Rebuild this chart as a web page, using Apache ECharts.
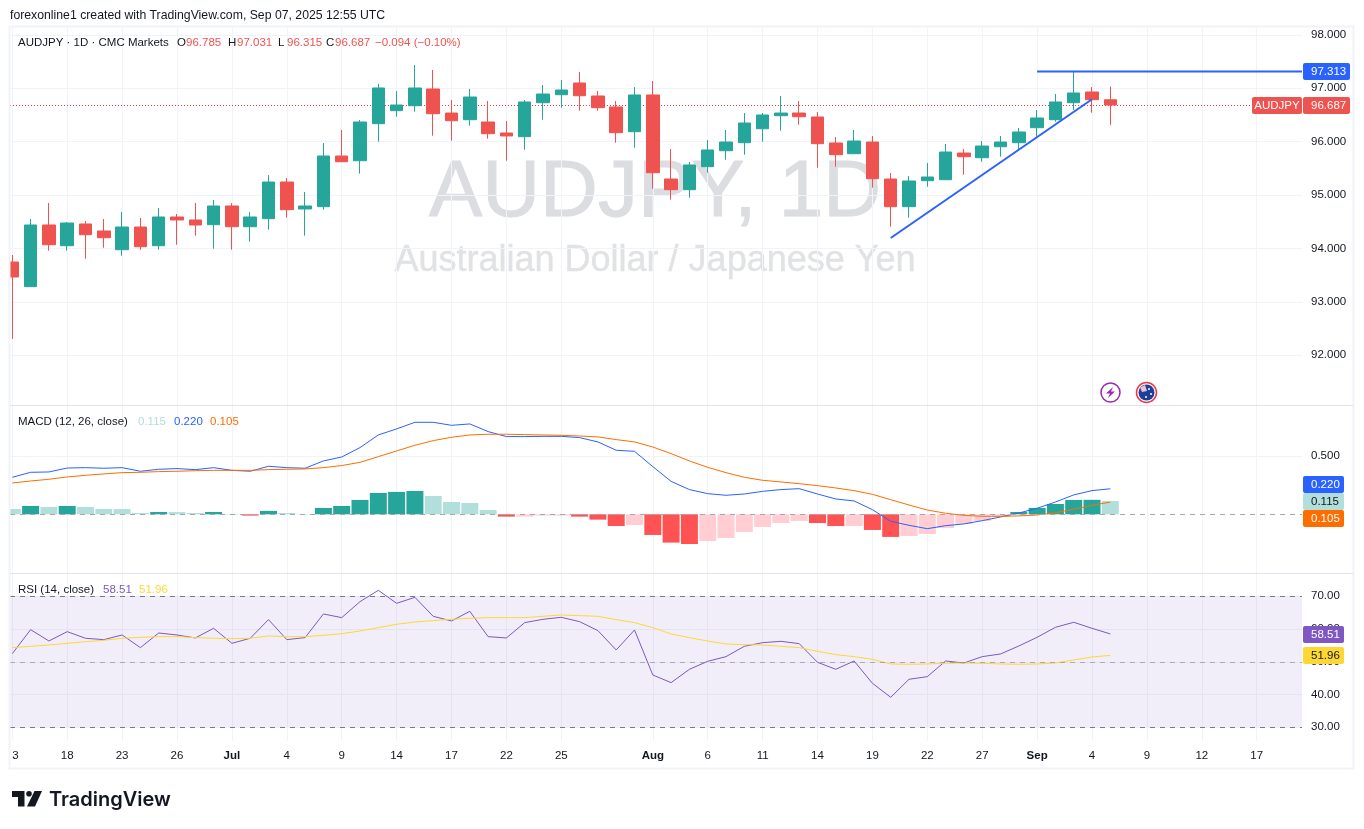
<!doctype html>
<html lang="en">
<head>
<meta charset="utf-8">
<title>AUDJPY</title>
<style>html,body{margin:0;padding:0;background:#fff}#main{width:1364px;height:829px}</style>
<script src="https://cdnjs.cloudflare.com/ajax/libs/echarts/6.0.0/echarts.min.js"></script>
</head>
<body>
<div id="main"></div>
<script type="text/javascript">
// open, close, low, high per session
var candles = [
[93.747,93.466,92.305,93.878],[93.285,94.440,93.285,94.552],[94.440,94.071,93.959,94.852],[94.052,94.477,93.959,94.496],
[94.459,94.258,93.809,94.515],[94.328,94.202,94.015,94.552],[93.977,94.402,93.865,94.684],[94.402,94.034,93.977,94.571],
[94.052,94.590,93.977,94.758],[94.590,94.534,94.071,94.646],[94.534,94.440,94.240,94.852],[94.446,94.796,93.996,94.908],
[94.796,94.408,93.977,94.852],[94.408,94.590,94.127,94.684],[94.558,95.245,94.352,95.376],[95.245,94.727,94.577,95.320],
[94.740,94.796,94.240,95.058],[94.783,95.732,94.727,95.976],[95.732,95.625,95.625,96.219],[95.644,96.369,95.401,96.406],
[96.337,97.006,96.000,97.081],[96.581,96.687,96.468,96.949],[96.674,97.006,96.562,97.436],[96.987,96.524,96.112,97.343],
[96.537,96.393,96.019,96.781],[96.412,96.837,96.300,96.987],[96.369,96.150,96.056,96.762],[96.163,96.107,95.644,96.388],
[96.094,96.744,95.850,96.781],[96.730,96.893,96.412,97.062],[96.880,96.968,96.637,97.155],[97.099,96.861,96.581,97.305],
[96.856,96.637,96.581,96.949],[96.650,96.169,95.981,96.762],[96.187,96.875,95.888,97.024],[96.875,95.419,95.120,97.137],
[95.301,95.101,94.914,95.863],[95.101,95.564,94.951,95.620],[95.532,95.845,95.419,96.032],[95.831,95.994,95.663,96.219],
[95.981,96.350,95.757,96.537],[96.243,96.500,96.000,96.537],[96.487,96.537,96.206,96.856],[96.537,96.468,96.318,96.762],
[96.463,95.963,95.513,96.556],[95.976,95.757,95.532,96.088],[95.775,96.013,95.775,96.219],[95.994,95.307,95.139,96.107],
[95.301,94.783,94.408,95.414],[94.783,95.264,94.577,95.358],[95.270,95.339,95.157,95.601],[95.288,95.807,95.288,95.957],
[95.788,95.719,95.382,95.863],[95.700,95.919,95.625,96.013],[95.906,95.994,95.719,96.107],[95.981,96.182,95.850,96.257],
[96.262,96.444,96.094,96.594],[96.412,96.744,96.375,96.893],[96.730,96.912,96.594,97.313],[96.931,96.787,96.543,97.024],
[96.785,96.687,96.315,97.031]
];
var macdLine = [.319,.362,.365,.399,.402,.397,.402,.371,.388,.394,.385,.402,.379,.371,.414,.402,.397,.460,.494,.575,.684,.736,.793,.793,.767,.779,.713,.670,.670,.672,.672,.661,.624,.552,.543,.411,.284,.213,.178,.164,.175,.198,.213,.221,.175,.132,.115,.040,-.060,-.095,-.124,-.098,-.083,-.055,-.023,.011,.052,.106,.167,.204,.220];
var signalLine = [.270,.287,.302,.322,.336,.348,.359,.362,.368,.371,.376,.379,.379,.379,.385,.388,.391,.402,.420,.448,.497,.546,.595,.635,.664,.684,.690,.690,.687,.684,.681,.675,.667,.644,.624,.580,.523,.460,.405,.359,.319,.293,.279,.264,.247,.227,.204,.172,.126,.080,.037,.009,-.009,-.017,-.017,-.014,-.006,.014,.043,.078,.105];
var macdHist = [.046,.072,.063,.072,.063,.046,.045,.011,.020,.019,.011,.020,.003,-.011,.029,.011,.003,.055,.072,.124,.184,.193,.201,.158,.106,.098,.037,-.020,-.020,-.011,-.011,-.020,-.046,-.101,-.092,-.178,-.244,-.256,-.230,-.204,-.152,-.109,-.075,-.057,-.075,-.101,-.101,-.135,-.195,-.187,-.170,-.118,-.083,-.057,-.023,.020,.055,.089,.124,.125,.115];
var rsiLine = [52.49,59.82,56.36,59.21,57.18,56.77,58.19,54.33,58.80,58.19,57.28,60.23,55.65,57.18,62.88,56.77,57.38,64.61,63.49,68.37,71.83,67.86,69.69,63.89,62.47,65.42,57.68,57.28,61.96,62.98,63.59,62.26,59.52,53.61,59.72,45.98,43.64,47.71,50.15,51.58,54.73,55.85,56.26,55.55,49.85,47.71,50.25,43.44,39.16,44.66,45.47,50.25,49.64,51.58,52.39,54.83,57.48,60.53,62.06,60.23,58.51];
var rsiMa = [54.33,54.73,55.14,55.65,56.16,56.56,57.18,57.48,57.68,57.68,57.38,57.18,57.07,57.18,57.89,57.68,57.68,58.09,58.60,59.41,60.43,61.45,62.16,62.57,62.98,63.28,63.49,63.49,63.49,63.89,64.30,64.10,63.89,62.88,61.96,60.43,58.50,57.38,56.36,55.45,55.24,55.14,54.73,54.33,53.21,52.19,51.58,50.76,49.34,49.24,49.34,49.54,49.64,49.54,49.34,49.24,49.34,49.64,50.56,51.48,51.96];

var tickIdx = [0,3,6,9,12,15,18,21,24,27,30,35,38,41,44,47,50,53,56,59,62,65,68];
var tickLabels = ['13','18','23','26','Jul','4','9','14','17','22','25','Aug','6','11','14','19','22','27','Sep','4','9','12','17'];
var priceTicks = [92,93,94,95,96,97,98];
var macdTicks = [0.5];
var rsiTicks = [30,40,50,60,70];

var trendLine = [[48,94.197],[59,96.794]];
var highLine = [[56,97.313],[70.475,97.313]];
var lastPrice = 96.687;

var FONT = '"Liberation Sans"';
var UP = '#26a69a', DOWN = '#ef5350';
var GRID_COLOR = '#f0f3fa';
var xMin = -0.126, xMax = 70.475;

function withIndex(arr){
    return arr.map(function(v,i){ return [i,v]; });
}
function histColor(i){
    var v = macdHist[i];
    var prev = i>0 ? macdHist[i-1] : v+1;
    if(v>=0) return v>=prev ? UP : '#b2dfdb';
    return v<prev ? '#ff5252' : '#ffcdd2';
}
function xAxis(idx,withLabels){
    return {
        type:'value', gridIndex:idx, min:xMin, max:xMax,
        axisLine:{show:false},
        axisTick:{show:false,customValues:tickIdx},
        splitLine:{show:true,lineStyle:{color:GRID_COLOR,width:1}},
        axisLabel:{
            show:withLabels, customValues:tickIdx, margin:9,
            color:'#131722', fontFamily:FONT, fontSize:11.5,
            formatter:function(v){
                var s = tickLabels[tickIdx.indexOf(v)];
                return /[a-z]/.test(s) ? '{b|'+s+'}' : s;
            },
            rich:{b:{fontWeight:'bold',fontFamily:FONT,fontSize:11.5,color:'#131722'}}
        }
    };
}
function yAxis(idx,min,max,ticks,digits){
    return {
        type:'value', gridIndex:idx, position:'right', min:min, max:max,
        axisLine:{show:false},
        axisTick:{show:false,customValues:ticks},
        splitLine:{show:true,lineStyle:{color:GRID_COLOR,width:1}},
        axisLabel:{
            customValues:ticks, margin:9, align:'left', padding:[2,0,0,0],
            color:'#131722', fontFamily:FONT, fontSize:11.5,
            formatter:function(v){ return v.toFixed(digits); }
        }
    };
}
function thinLine(name,idx,data,color){
    return {
        name:name, type:'line', xAxisIndex:idx, yAxisIndex:idx, data:data,
        showSymbol:false, silent:true, lineStyle:{color:color,width:1}, z:4
    };
}

// ---- texts, tags and decorations on top of the chart
function txt(x,y,s,fill,opt){
    opt = opt||{};
    return {type:'text',x:x,y:y,z:opt.z||100,style:{
        text:s, fill:fill, align:opt.align||'left', verticalAlign:'middle',
        font:(opt.weight||'normal')+' '+(opt.size||11.5)+'px '+(opt.font||FONT)
    }};
}
function tag(x,y,w,h,s,bg,fg){
    return [
        {type:'rect',z:110,shape:{x:x,y:y,width:w,height:h,r:2},style:{fill:bg}},
        {type:'text',z:111,x:1311,y:y+h/2+0.5,style:{text:s,fill:fg,verticalAlign:'middle',font:'11.5px '+FONT}}
    ];
}
var deco = [];
// watermark, behind the candles
deco.push({type:'text',z:0,x:655,y:194,style:{text:'AUDJPY, 1D',fill:'#dcdde0',stroke:'#dcdde0',lineWidth:1,align:'center',verticalAlign:'middle',font:'80px '+FONT}});
deco.push({type:'text',z:0,x:655,y:261,style:{text:'Australian Dollar / Japanese Yen',fill:'#e1e2e4',stroke:'#e1e2e4',lineWidth:0.4,align:'center',verticalAlign:'middle',font:'36px '+FONT}});
// frame and pane separators; the masks trim what is cut off at the left edge
deco.push({type:'rect',z:105,shape:{x:0,y:26,width:9,height:744},style:{fill:'#fff'}});
deco.push({type:'rect',z:105,shape:{x:10,y:747,width:2,height:16},style:{fill:'#fff'}});
deco.push({type:'rect',z:106,shape:{x:9.5,y:26.5,width:1344,height:742},style:{fill:'none',stroke:GRID_COLOR,lineWidth:2}});
deco.push({type:'rect',z:106,shape:{x:10,y:405,width:1343,height:1},style:{fill:'#e0e3eb'}});
deco.push({type:'rect',z:106,shape:{x:10,y:573,width:1343,height:1},style:{fill:'#e0e3eb'}});
deco.push(txt(10,15.5,'forexonline1 created with TradingView.com, Sep 07, 2025 12:55 UTC','#131722',{size:12.25}));
// price legend
deco.push(txt(18,42.5,'AUDJPY \u00b7 1D \u00b7 CMC Markets','#131722'));
[[177,'O','96.785'],[228,'H','97.031'],[278,'L','96.315'],[326,'C','96.687']].forEach(function(o){
    deco.push(txt(o[0],42.5,o[1],'#131722'));
    deco.push(txt(o[0]+9,42.5,o[2],DOWN));
});
deco.push(txt(375,42.5,'\u22120.094 (\u22120.10%)',DOWN));
// macd legend
deco.push(txt(18,421.5,'MACD (12, 26, close)','#131722'));
deco.push(txt(138,421.5,'0.115','#b2dfdb'));
deco.push(txt(174,421.5,'0.220','#2962ff'));
deco.push(txt(210,421.5,'0.105','#ff6d00'));
// rsi legend
deco.push(txt(18,589.5,'RSI (14, close)','#131722'));
deco.push(txt(103,589.5,'58.51','#7e57c2'));
deco.push(txt(139,589.5,'51.96','#fdd835'));
// price scale tags
deco = deco.concat(tag(1303,63,47,17,'97.313','#2962ff','#fff'));
deco = deco.concat(tag(1303,97,47,17,'96.687',DOWN,'#fff'));
deco.push({type:'rect',z:110,shape:{x:1252,y:97,width:50,height:17,r:2},style:{fill:DOWN}});
deco.push(txt(1277,106,'AUDJPY','#fff',{z:111,align:'center'}));
deco = deco.concat(tag(1303,476,41,17,'0.220','#2962ff','#fff'));
deco = deco.concat(tag(1303,493,41,17,'0.115','#b2dfdb','#131722'));
deco = deco.concat(tag(1303,510,41,17,'0.105','#ff6d00','#fff'));
deco = deco.concat(tag(1303,626,41,17,'58.51','#7e57c2','#fff'));
deco = deco.concat(tag(1303,647,41,17,'51.96','#fdd835','#131722'));
// event icons
deco.push({type:'circle',z:50,shape:{cx:1110.5,cy:392.5,r:9.5},style:{fill:'#fff',stroke:'#9c27b0',lineWidth:1.5}});
deco.push({type:'polygon',z:51,shape:{points:[[1113,387],[1106,393.5],[1110,393.5],[1108,398],[1115,391.5],[1111,391.5]]},style:{fill:'#9c27b0'}});
deco.push({type:'circle',z:50,shape:{cx:1146.5,cy:392.5,r:10},style:{fill:'#fff',stroke:'#f23645',lineWidth:1.5}});
deco.push({type:'circle',z:51,shape:{cx:1146.5,cy:392.5,r:8},style:{fill:'#1b3f9a'}});
deco.push({type:'polygon',z:52,shape:{points:[[1140,387.5],[1145,385],[1147,391],[1142,392]]},style:{fill:'#eec4cc'}});
deco.push({type:'circle',z:52,shape:{cx:1149,cy:389,r:1},style:{fill:'#fff'}});
deco.push({type:'circle',z:52,shape:{cx:1151,cy:394,r:1},style:{fill:'#fff'}});
deco.push({type:'circle',z:52,shape:{cx:1146,cy:397,r:1},style:{fill:'#fff'}});
// logo
deco.push({type:'polygon',z:100,shape:{points:[[12,791],[24.5,791],[24.5,806.5],[18,806.5],[18,797],[12,797]]},style:{fill:'#131722'}});
deco.push({type:'circle',z:100,shape:{cx:29,cy:793.8,r:2.8},style:{fill:'#131722'}});
deco.push({type:'polygon',z:100,shape:{points:[[34.5,791],[42,791],[35,806.5],[27,806.5]]},style:{fill:'#131722'}});
deco.push(txt(49,799.5,'TradingView','#131722',{size:20,weight:'600',font:'Inter'}));

var option = {
    animation:false,
    backgroundColor:'#fff',
    grid:[
        {left:10,width:1292,top:27,height:378},
        {left:10,width:1292,top:406,height:167},
        {left:10,width:1292,top:574,height:167}
    ],
    xAxis:[xAxis(0,false),xAxis(1,false),xAxis(2,true)],
    yAxis:[
        yAxis(0,91.069,98.148,priceTicks,3),
        yAxis(1,-0.506,0.9336,macdTicks,3),
        yAxis(2,25.82,76.81,rsiTicks,2)
    ],
    graphic:{elements:deco},
    series:[
        {
            name:'AUDJPY', type:'candlestick', xAxisIndex:0, yAxisIndex:0,
            data:candles.map(function(c,i){ return [i,c[0],c[1],c[2],c[3]]; }),
            encode:{x:0,y:[1,2,3,4]},
            barWidth:13, z:3, silent:true,
            itemStyle:{color:UP,color0:DOWN,borderColor:UP,borderColor0:DOWN,borderWidth:1},
            markLine:{
                silent:true, symbol:'none', label:{show:false}, z:1,
                data:[{yAxis:lastPrice,lineStyle:{color:'#f23645',type:[1,2],width:1}}]
            }
        },
        {name:'trend',type:'line',data:trendLine,showSymbol:false,silent:true,lineStyle:{color:'#2962ff',width:2},z:5},
        {name:'high',type:'line',data:highLine,showSymbol:false,silent:true,lineStyle:{color:'#2962ff',width:2},z:5},
        {
            name:'hist', type:'bar', xAxisIndex:1, yAxisIndex:1, barWidth:17, silent:true,
            data:macdHist.map(function(v,i){ return {value:[i,v],itemStyle:{color:histColor(i)}}; }),
            markLine:{
                silent:true, symbol:'none', label:{show:false},
                lineStyle:{color:'#a5a7ad',type:[5,5],width:1},
                data:[{yAxis:0}]
            }
        },
        thinLine('macd',1,withIndex(macdLine),'#2962ff'),
        thinLine('signal',1,withIndex(signalLine),'#ff6d00'),
        {
            name:'rsi', type:'line', xAxisIndex:2, yAxisIndex:2, data:withIndex(rsiLine),
            showSymbol:false, silent:true, lineStyle:{color:'#7e57c2',width:1}, z:4,
            markArea:{silent:true,itemStyle:{color:'rgba(126,87,194,0.1)'},data:[[{yAxis:70},{yAxis:30}]]},
            markLine:{
                silent:true, symbol:'none', label:{show:false},
                data:[
                    {yAxis:70,lineStyle:{color:'#787b86',type:[5,5],width:1}},
                    {yAxis:50,lineStyle:{color:'rgba(120,123,134,0.55)',type:[5,5],width:1}},
                    {yAxis:30,lineStyle:{color:'#787b86',type:[5,5],width:1}}
                ]
            }
        },
        thinLine('rsiMa',2,withIndex(rsiMa),'#fdd835')
    ]
};
var myChart = echarts.init(document.getElementById('main'));
myChart.setOption(option);
</script>
</body>
</html>
